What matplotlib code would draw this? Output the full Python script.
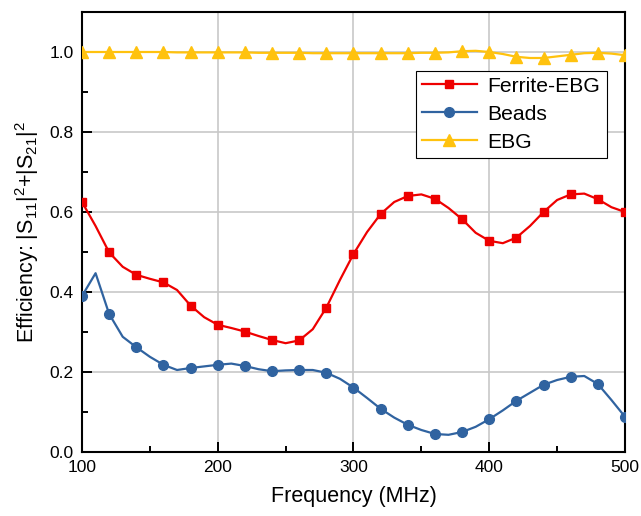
import matplotlib
matplotlib.use("Agg")
import matplotlib.pyplot as plt
from matplotlib.ticker import MultipleLocator, FormatStrFormatter

plt.rcParams['font.family'] = ['Liberation Sans', 'DejaVu Sans']
plt.rcParams['mathtext.fontset'] = 'custom'
plt.rcParams['mathtext.rm'] = 'Liberation Sans'
plt.rcParams['mathtext.it'] = 'Liberation Sans'

freq = [100, 110, 120, 130, 140, 150, 160, 170, 180, 190, 200, 210, 220, 230, 240,
        250, 260, 270, 280, 290, 300, 310, 320, 330, 340, 350, 360, 370, 380, 390,
        400, 410, 420, 430, 440, 450, 460, 470, 480, 490, 500]

ferrite_ebg = [0.625, 0.565, 0.499, 0.463, 0.443, 0.433, 0.424, 0.405, 0.366, 0.337,
               0.318, 0.310, 0.301, 0.290, 0.280, 0.272, 0.279, 0.307, 0.361, 0.430,
               0.495, 0.550, 0.595, 0.625, 0.640, 0.644, 0.633, 0.610, 0.582, 0.548,
               0.528, 0.522, 0.536, 0.565, 0.600, 0.630, 0.644, 0.646, 0.632, 0.612,
               0.600]

beads = [0.390, 0.447, 0.345, 0.288, 0.262, 0.238, 0.218, 0.205, 0.210, 0.214,
         0.218, 0.221, 0.215, 0.207, 0.202, 0.204, 0.205, 0.205, 0.198, 0.183,
         0.161, 0.135, 0.108, 0.086, 0.068, 0.055, 0.045, 0.043, 0.050, 0.063,
         0.082, 0.104, 0.128, 0.148, 0.168, 0.180, 0.188, 0.190, 0.170, 0.130,
         0.088]

ebg = [1.000, 1.000, 1.000, 1.000, 1.000, 1.000, 1.000, 0.999, 0.999, 0.999,
       0.999, 0.999, 0.999, 0.998, 0.998, 0.998, 0.998, 0.997, 0.997, 0.997,
       0.997, 0.997, 0.997, 0.997, 0.997, 0.998, 0.998, 0.999, 1.002, 1.003,
       1.000, 0.995, 0.988, 0.985, 0.985, 0.989, 0.993, 0.997, 0.998, 0.996,
       0.992]

labels = ['Ferrite-EBG', 'Beads', 'EBG']
colors = ['#EE0000', '#3063A0', '#FFC20E']

fig = plt.figure(figsize=(6.41, 5.16), dpi=100)
ax = fig.add_axes([82/641, 1 - 452/516, (625-82)/641, (452-12)/516])

ax.plot(freq, ferrite_ebg, color=colors[0], lw=1.6, marker='s', ms=6.2,
        markevery=2, label=labels[0], zorder=5)
ax.plot(freq, beads, color=colors[1], lw=1.6, marker='o', ms=7,
        markevery=2, label=labels[1], zorder=4)
ax.plot(freq, ebg, color=colors[2], lw=1.6, marker='^', ms=8,
        markevery=2, label=labels[2], zorder=3)

ax.set_xlim(100, 500)
ax.set_ylim(0, 1.1)
ax.xaxis.set_major_locator(MultipleLocator(100))
ax.xaxis.set_minor_locator(MultipleLocator(50))
ax.yaxis.set_major_locator(MultipleLocator(0.2))
ax.yaxis.set_minor_locator(MultipleLocator(0.1))
ax.yaxis.set_major_formatter(FormatStrFormatter('%.1f'))

ax.grid(True, which='major', color='#C8C8C8', lw=1.2, zorder=0)
ax.set_axisbelow(True)

ax.tick_params(which='both', direction='in', top=False, right=False,
               labelsize=12.5, width=1.4, pad=6)
ax.tick_params(which='major', length=7)
ax.tick_params(which='minor', length=4)
for s in ax.spines.values():
    s.set_linewidth(1.5)
    s.set_color('black')

ax.set_xlabel('Frequency (MHz)', fontsize=15.5, labelpad=8)
ax.set_ylabel(r'Efficiency: |S$_{11}$|$^{2}$+|S$_{21}$|$^{2}$', fontsize=15.5, labelpad=6)

leg = ax.legend(loc='upper right', bbox_to_anchor=(0.966, 0.867), fontsize=15.2,
                frameon=True, fancybox=False, edgecolor='black', framealpha=1,
                handlelength=2.6, labelspacing=0.42, borderpad=0.3,
                handletextpad=0.5, borderaxespad=0)
leg.get_frame().set_linewidth(0.8)

fig.savefig('out.png', dpi=100)
